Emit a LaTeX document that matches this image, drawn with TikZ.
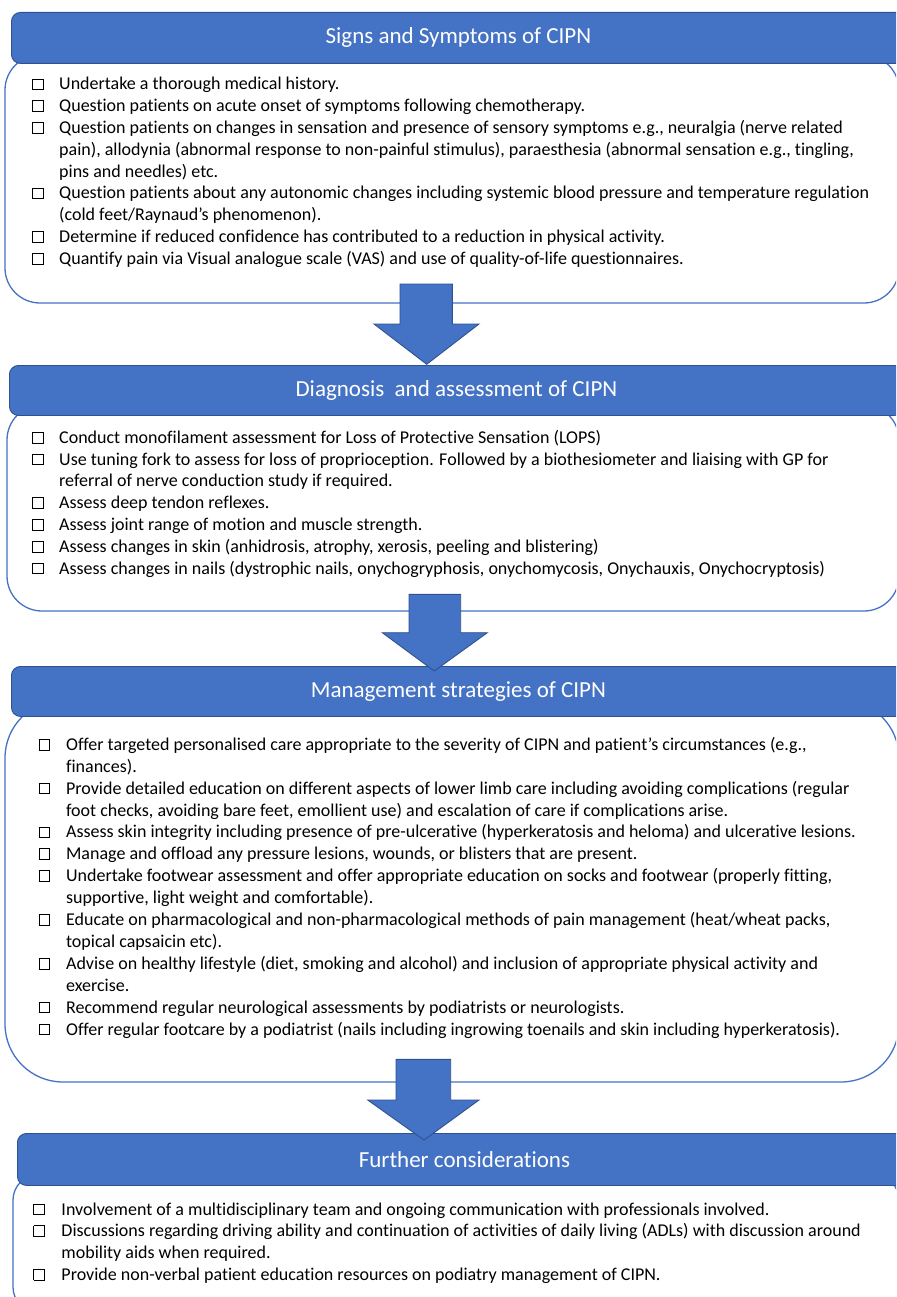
\documentclass[tikz,border=0pt]{standalone}
\usepackage{fontspec}
\defaultfontfeatures{}
\setmainfont{Carlito}[Ligatures=NoCommon]
\definecolor{hblue}{HTML}{4472C4}
\definecolor{hdark}{HTML}{2F528F}
\newcommand\cbx{\raisebox{0.7pt}{\setlength{\fboxsep}{0pt}\setlength{\fboxrule}{0.9pt}\fbox{\rule{0pt}{9.8pt}\hspace{9.8pt}}}}
\begin{document}
\begin{tikzpicture}[x=1pt,y=-1pt,
  bodybox/.style={draw=hblue, line width=1.3pt, fill=white},
  hdr/.style={draw=hdark, line width=0.9pt, fill=hblue, rounded corners=9pt, anchor=north west,
    minimum width=894pt, inner sep=0pt, text=white, font=\fontsize{23}{27}\selectfont},
  blockarrow/.style={draw=hdark, line width=0.9pt, fill=hblue},
  items/.style={anchor=base west, inner sep=0pt, font=\fontsize{18}{21.8}\selectfont}]
\useasboundingbox (0,0) rectangle (896,1297);
\fill[white] (0,0) rectangle (896,1297);
\clip (0,0) rectangle (896,1297);

% bodies
\draw[bodybox, rounded corners=35pt] (5,55) rectangle (899,303);
\draw[bodybox, rounded corners=35pt] (7,405) rectangle (899,611);
\draw[bodybox, rounded corners=58pt] (5,700) rectangle (899,1082);
\draw[bodybox, rounded corners=25pt] (13,1175) rectangle (899,1312);

% headers
\node[hdr, minimum height=51pt] (h1) at (11,12) {Signs and Symptoms of CIPN};
\node[hdr, minimum height=50pt] (h2) at (9,365) {Diagnosis\ \ and assessment of CIPN};
\node[hdr, minimum height=50pt] (h3) at (11,666) {Management strategies of CIPN};
\node[hdr, minimum height=52pt] (h4) at (17,1133) {Further considerations};

% items
\node[items] (l1) at (31.7,90) {\begin{tabular}[t]{@{}l@{\hspace{15.7pt}}l@{}}
\cbx & Undertake a thorough medical history.\\
\cbx & Question patients on acute onset of symptoms following chemotherapy.\\
\cbx & Question patients on changes in sensation and presence of sensory symptoms e.g., neuralgia (nerve related\\
 & pain), allodynia (abnormal response to non-painful stimulus), paraesthesia (abnormal sensation e.g., tingling,\\
 & pins and needles) etc.\\
\cbx & Question patients about any autonomic changes including systemic blood pressure and temperature regulation\\
 & (cold feet/Raynaud's phenomenon).\\
\cbx & Determine if reduced confidence has contributed to a reduction in physical activity.\\
\cbx & Quantify pain via Visual analogue scale (VAS) and use of quality-of-life questionnaires.
\end{tabular}};

\node[items] (l2) at (31.7,443.3) {\begin{tabular}[t]{@{}l@{\hspace{15.7pt}}l@{}}
\cbx & Conduct monofilament assessment for Loss of Protective Sensation (LOPS)\\
\cbx & Use tuning fork to assess for loss of proprioception. Followed by a biothesiometer and liaising with GP for\\
 & referral of nerve conduction study if required.\\
\cbx & Assess deep tendon reflexes.\\
\cbx & Assess joint range of motion and muscle strength.\\
\cbx & Assess changes in skin (anhidrosis, atrophy, xerosis, peeling and blistering)\\
\cbx & Assess changes in nails (dystrophic nails, onychogryphosis, onychomycosis, Onychauxis, Onychocryptosis)
\end{tabular}};

\node[items, font=\fontsize{18}{21.9}\selectfont] (l3) at (38.3,750.3) {\begin{tabular}[t]{@{}l@{\hspace{16pt}}l@{}}
\cbx & Offer targeted personalised care appropriate to the severity of CIPN and patient’s circumstances (e.g.,\\
 & finances).\\
\cbx & Provide detailed education on different aspects of lower limb care including avoiding complications (regular\\
 & foot checks, avoiding bare feet, emollient use) and escalation of care if complications arise.\\
\cbx & Assess skin integrity including presence of pre-ulcerative (hyperkeratosis and heloma) and ulcerative lesions.\\
\cbx & Manage and offload any pressure lesions, wounds, or blisters that are present.\\
\cbx & Undertake footwear assessment and offer appropriate education on socks and footwear (properly fitting,\\
 & supportive, light weight and comfortable).\\
\cbx & Educate on pharmacological and non-pharmacological methods of pain management (heat/wheat packs,\\
 & topical capsaicin etc).\\
\cbx & Advise on healthy lifestyle (diet, smoking and alcohol) and inclusion of appropriate physical activity and\\
 & exercise.\\
\cbx & Recommend regular neurological assessments by podiatrists or neurologists.\\
\cbx & Offer regular footcare by a podiatrist (nails including ingrowing toenails and skin including hyperkeratosis).
\end{tabular}};

\node[items] (l4) at (33.3,1215) {\begin{tabular}[t]{@{}l@{\hspace{16.4pt}}l@{}}
\cbx & Involvement of a multidisciplinary team and ongoing communication with professionals involved.\\
\cbx & Discussions regarding driving ability and continuation of activities of daily living (ADLs) with discussion around\\
 & mobility aids when required.\\
\cbx & Provide non-verbal patient education resources on podiatry management of CIPN.
\end{tabular}};

% block arrows
\draw[blockarrow] (400,284) -- (452.3,284) -- (452.3,324) -- (479,324) -- (426.7,364.3) -- (374,324) -- (400,324) -- cycle;
\draw[blockarrow] (409,594.3) -- (460.7,594.3) -- (460.7,632.7) -- (487.3,632.7) -- (434.3,671) -- (382.3,632.7) -- (409,632.7) -- cycle;
\draw[blockarrow] (396,1059.3) -- (450.7,1059.3) -- (450.7,1100) -- (479,1100) -- (424,1140) -- (367.7,1100) -- (396,1100) -- cycle;
\end{tikzpicture}
\end{document}
